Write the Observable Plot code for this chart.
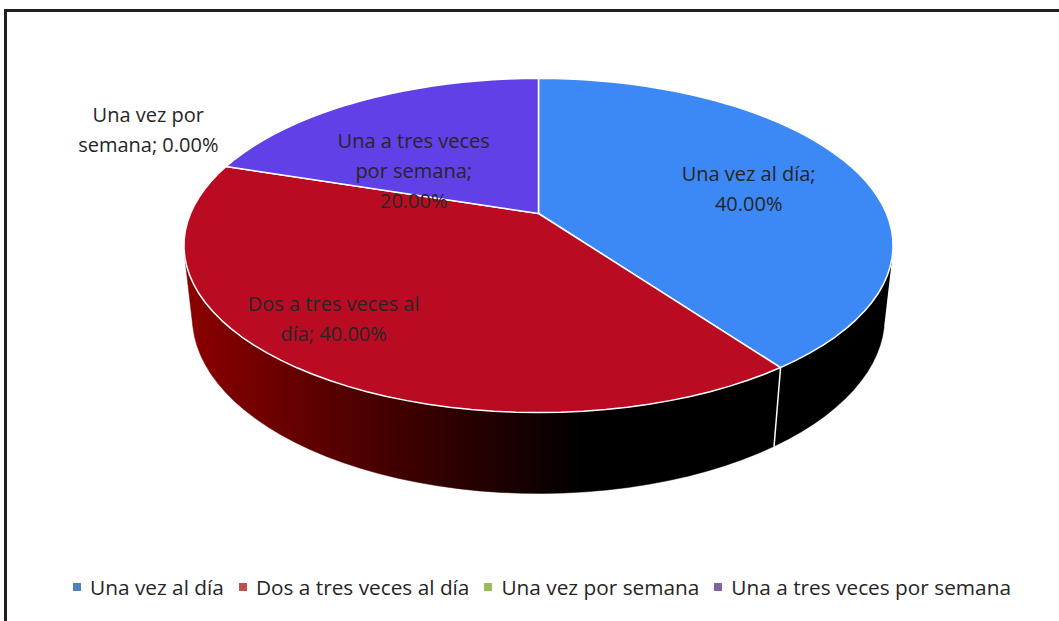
<!DOCTYPE html>
<html><head><meta charset="utf-8">
<script src="https://cdn.jsdelivr.net/npm/d3@7"></script>
<script src="https://cdn.jsdelivr.net/npm/@observablehq/plot@0.6"></script>
<style>
body{margin:0;background:#fff;}
#wrap{position:relative;width:1059px;height:621px;overflow:hidden;background:#fff;}
#frame{position:absolute;left:4px;top:9px;width:1070px;height:630px;border-top:3px solid #231f20;border-left:3px solid #231f20;pointer-events:none;}
#chart{position:absolute;left:0;top:0;}
#legend{position:absolute;left:20px;top:573px;width:1059px;display:flex;justify-content:center;}
#legend .lg-swatches{font-family:"Open Sans",sans-serif;font-size:20.8px;color:#262626;margin:0;min-height:0;}
#legend .lg-swatch{margin-right:15px;}
#legend .lg-swatch svg{margin-right:9px;}
</style></head><body>
<div id="wrap"><div id="chart"></div><div id="legend"></div><div id="frame"></div></div>
<script>
// ---- data ----
const categories = ["Una vez al día", "Dos a tres veces al día", "Una vez por semana", "Una a tres veces por semana"];
const shares = [40, 40, 0, 20];
const labelLines = [
  "Una vez al día;\n40.00%",
  "Dos a tres veces al\ndía; 40.00%",
  "Una vez por\nsemana; 0.00%",
  "Una a tres veces\npor semana;\n20.00%"
];
const topColors = ["#3c88f5", "#b90c23", "#9bbb59", "#6140e8"];
const legendColors = ["#4f81bd", "#c0504d", "#9bbb59", "#8064a2"];

// ---- layout (3D perspective projection of the pie) ----
const P = {cx: 538, cy: 213, f: 1610.5, D: 4.628, sa: 0.4624, ca: 0.8867, h: 0.2332};
function proj(X, Y, Z) {
  const d = P.D + Y * P.ca - Z * P.sa;
  return [P.cx + P.f * X / d, P.cy - P.f * (Y * P.sa + Z * P.ca) / d];
}
const pt = (r, a, Z) => proj(r * Math.sin(a), r * Math.cos(a), Z);
const sideFills = ["#000000", "url(#redSide)", "#000000", "#1c1040"];
const labelR = [0.65, 0.65, 1.25, 0.65];
const labelNudge = [[3, 4], [-57, 9], [-5, -28], [-4, 32]];

const arcs = d3.pie().sort(null).value(d => d)(shares);
const N = 120;
const visC = 1 / (P.D * P.ca);
const vis0 = Math.acos(-visC), vis1 = 2 * Math.PI - Math.acos(-visC);

const topRows = [], sideRows = [], seamRows = [], labelRows = [];
arcs.forEach((a, i) => {
  const a0 = a.startAngle, a1 = a.endAngle;
  if (a1 - a0 > 1e-9) {
    const [cx0, cy0] = proj(0, 0, 0);
    topRows.push({i, x: cx0, y: cy0});
    const n = Math.max(2, Math.ceil(N * (a1 - a0) / (2 * Math.PI)));
    for (let k = 0; k <= n; k++) {
      const [x, y] = pt(1, a0 + (a1 - a0) * k / n, 0);
      topRows.push({i, x, y});
    }
    const s = Math.max(a0, vis0), e = Math.min(a1, vis1);
    if (e > s) {
      const m = Math.max(2, Math.ceil(N * (e - s) / (2 * Math.PI)));
      for (let k = 0; k <= m; k++) { const [x, y] = pt(1, s + (e - s) * k / m, 0); sideRows.push({i, x, y}); }
      for (let k = m; k >= 0; k--) { const [x, y] = pt(1, s + (e - s) * k / m, -P.h); sideRows.push({i, x, y}); }
    }
    if (a0 > vis0 && a0 < vis1) {
      const [x0, y0] = pt(1, a0, 0), [x1, y1] = pt(1, a0, -P.h);
      seamRows.push({i, x: x0, y: y0}, {i, x: x1, y: y1});
    }
  }
  const mid = (a0 + a1) / 2;
  const [lx, ly] = pt(labelR[i], mid, 0);
  labelRows.push({i, x: lx + labelNudge[i][0], y: ly + labelNudge[i][1], text: labelLines[i]});
});

const defsMark = () => {
  const ns = "http://www.w3.org/2000/svg";
  const defs = document.createElementNS(ns, "defs");
  const g = document.createElementNS(ns, "linearGradient");
  g.setAttribute("id", "redSide");
  g.setAttribute("gradientUnits", "userSpaceOnUse");
  g.setAttribute("x1", "185"); g.setAttribute("x2", "585");
  g.setAttribute("y1", "0"); g.setAttribute("y2", "0");
  [["0", "#8c0000"], ["0.5", "#450000"], ["1", "#000000"]].forEach(([o, c]) => {
    const s = document.createElementNS(ns, "stop");
    s.setAttribute("offset", o); s.setAttribute("stop-color", c);
    g.appendChild(s);
  });
  defs.appendChild(g);
  return defs;
};

const marks = [defsMark];
categories.forEach((c, i) => {
  const rows = sideRows.filter(d => d.i === i);
  if (rows.length) marks.push(Plot.line(rows, {x: "x", y: "y", fill: sideFills[i], stroke: sideFills[i], strokeWidth: 0.5, curve: "linear"}));
});
marks.push(Plot.line(seamRows, {x: "x", y: "y", z: "i", stroke: "#ffffff", strokeWidth: 1.5}));
categories.forEach((c, i) => {
  const rows = topRows.filter(d => d.i === i);
  if (rows.length) marks.push(Plot.line(rows.concat([rows[0]]), {x: "x", y: "y", fill: topColors[i], stroke: "#ffffff", strokeWidth: 1.5, strokeLinejoin: "round", curve: "linear"}));
});
marks.push(Plot.text(labelRows, {x: "x", y: "y", text: "text", fontSize: 20, lineHeight: 1.5, fill: "#262626", fontFamily: "Open Sans", textAnchor: "middle"}));

const chart = Plot.plot({
  width: 1059, height: 560, margin: 0,
  x: {domain: [0, 1059], range: [0, 1059], axis: null},
  y: {domain: [0, 560], range: [0, 560], axis: null},
  style: {background: "transparent", overflow: "visible"},
  marks
});
document.getElementById("chart").appendChild(chart);

const legend = Plot.legend({color: {domain: categories, range: legendColors}, legend: "swatches", swatchSize: 8, className: "lg"});
document.getElementById("legend").appendChild(legend);
</script>
</body></html>
